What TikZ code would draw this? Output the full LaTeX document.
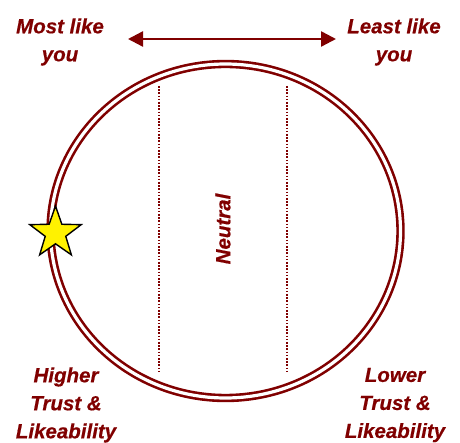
\documentclass[tikz,border=0pt]{standalone}
\usepackage{fontspec}
\setmainfont{Liberation Sans}[BoldItalicFeatures={FakeBold=0.5}]
\usepackage{tikz}
\usetikzlibrary{arrows.meta,shapes.geometric}
\definecolor{darkred}{RGB}{128,0,0}

\begin{document}
\begin{tikzpicture}[x=1pt, y=-1pt,
    lbl/.style={text=darkred, align=center, inner sep=0pt,
        font=\bfseries\itshape\fontsize{20.5}{28}\selectfont},
    ring/.style={draw=darkred, line width=2.6pt, double=white, double distance=3.2pt},
    zone/.style={darkred, line width=1.8pt, dash pattern=on 1.6pt off 1.6pt}]
    \useasboundingbox (0,0) rectangle (460,443);

    % corner labels
    \node[lbl] (most) at (60,42) {Most like\\you};
    \node[lbl] (least) at (394,42) {Least like\\you};
    \node[lbl] (higher) at (66,405) {Higher\\Trust \&\\Likeability};
    \node[lbl] (lower) at (395,405) {Lower\\Trust \&\\Likeability};

    % scale arrow
    \coordinate (L) at (128,39);
    \coordinate (R) at (336,39);
    \draw[{Triangle[length=15pt,width=15pt]}-{Triangle[length=15pt,width=15pt]},
        darkred, line width=2.4pt] (L) -- (R);

    % circle
    \coordinate (C) at (225.5,231);
    \draw[ring] (C) ellipse [x radius=175, y radius=167];

    % neutral zone
    \coordinate (A1) at (159,86);
    \coordinate (A2) at (159,373);
    \coordinate (B1) at (287,86);
    \coordinate (B2) at (287,373);
    \draw[zone] (A1) -- (A2);
    \draw[zone] (B1) -- (B2);
    \node[lbl, rotate=90] (neutral) at (223,229) {Neutral};

    % you are here
    \node[star, star points=5, star point ratio=2.5, minimum size=54pt, inner sep=0pt,
        draw=black, line width=1.4pt, fill=yellow] (you) at (55.5,233) {};
\end{tikzpicture}
\end{document}
